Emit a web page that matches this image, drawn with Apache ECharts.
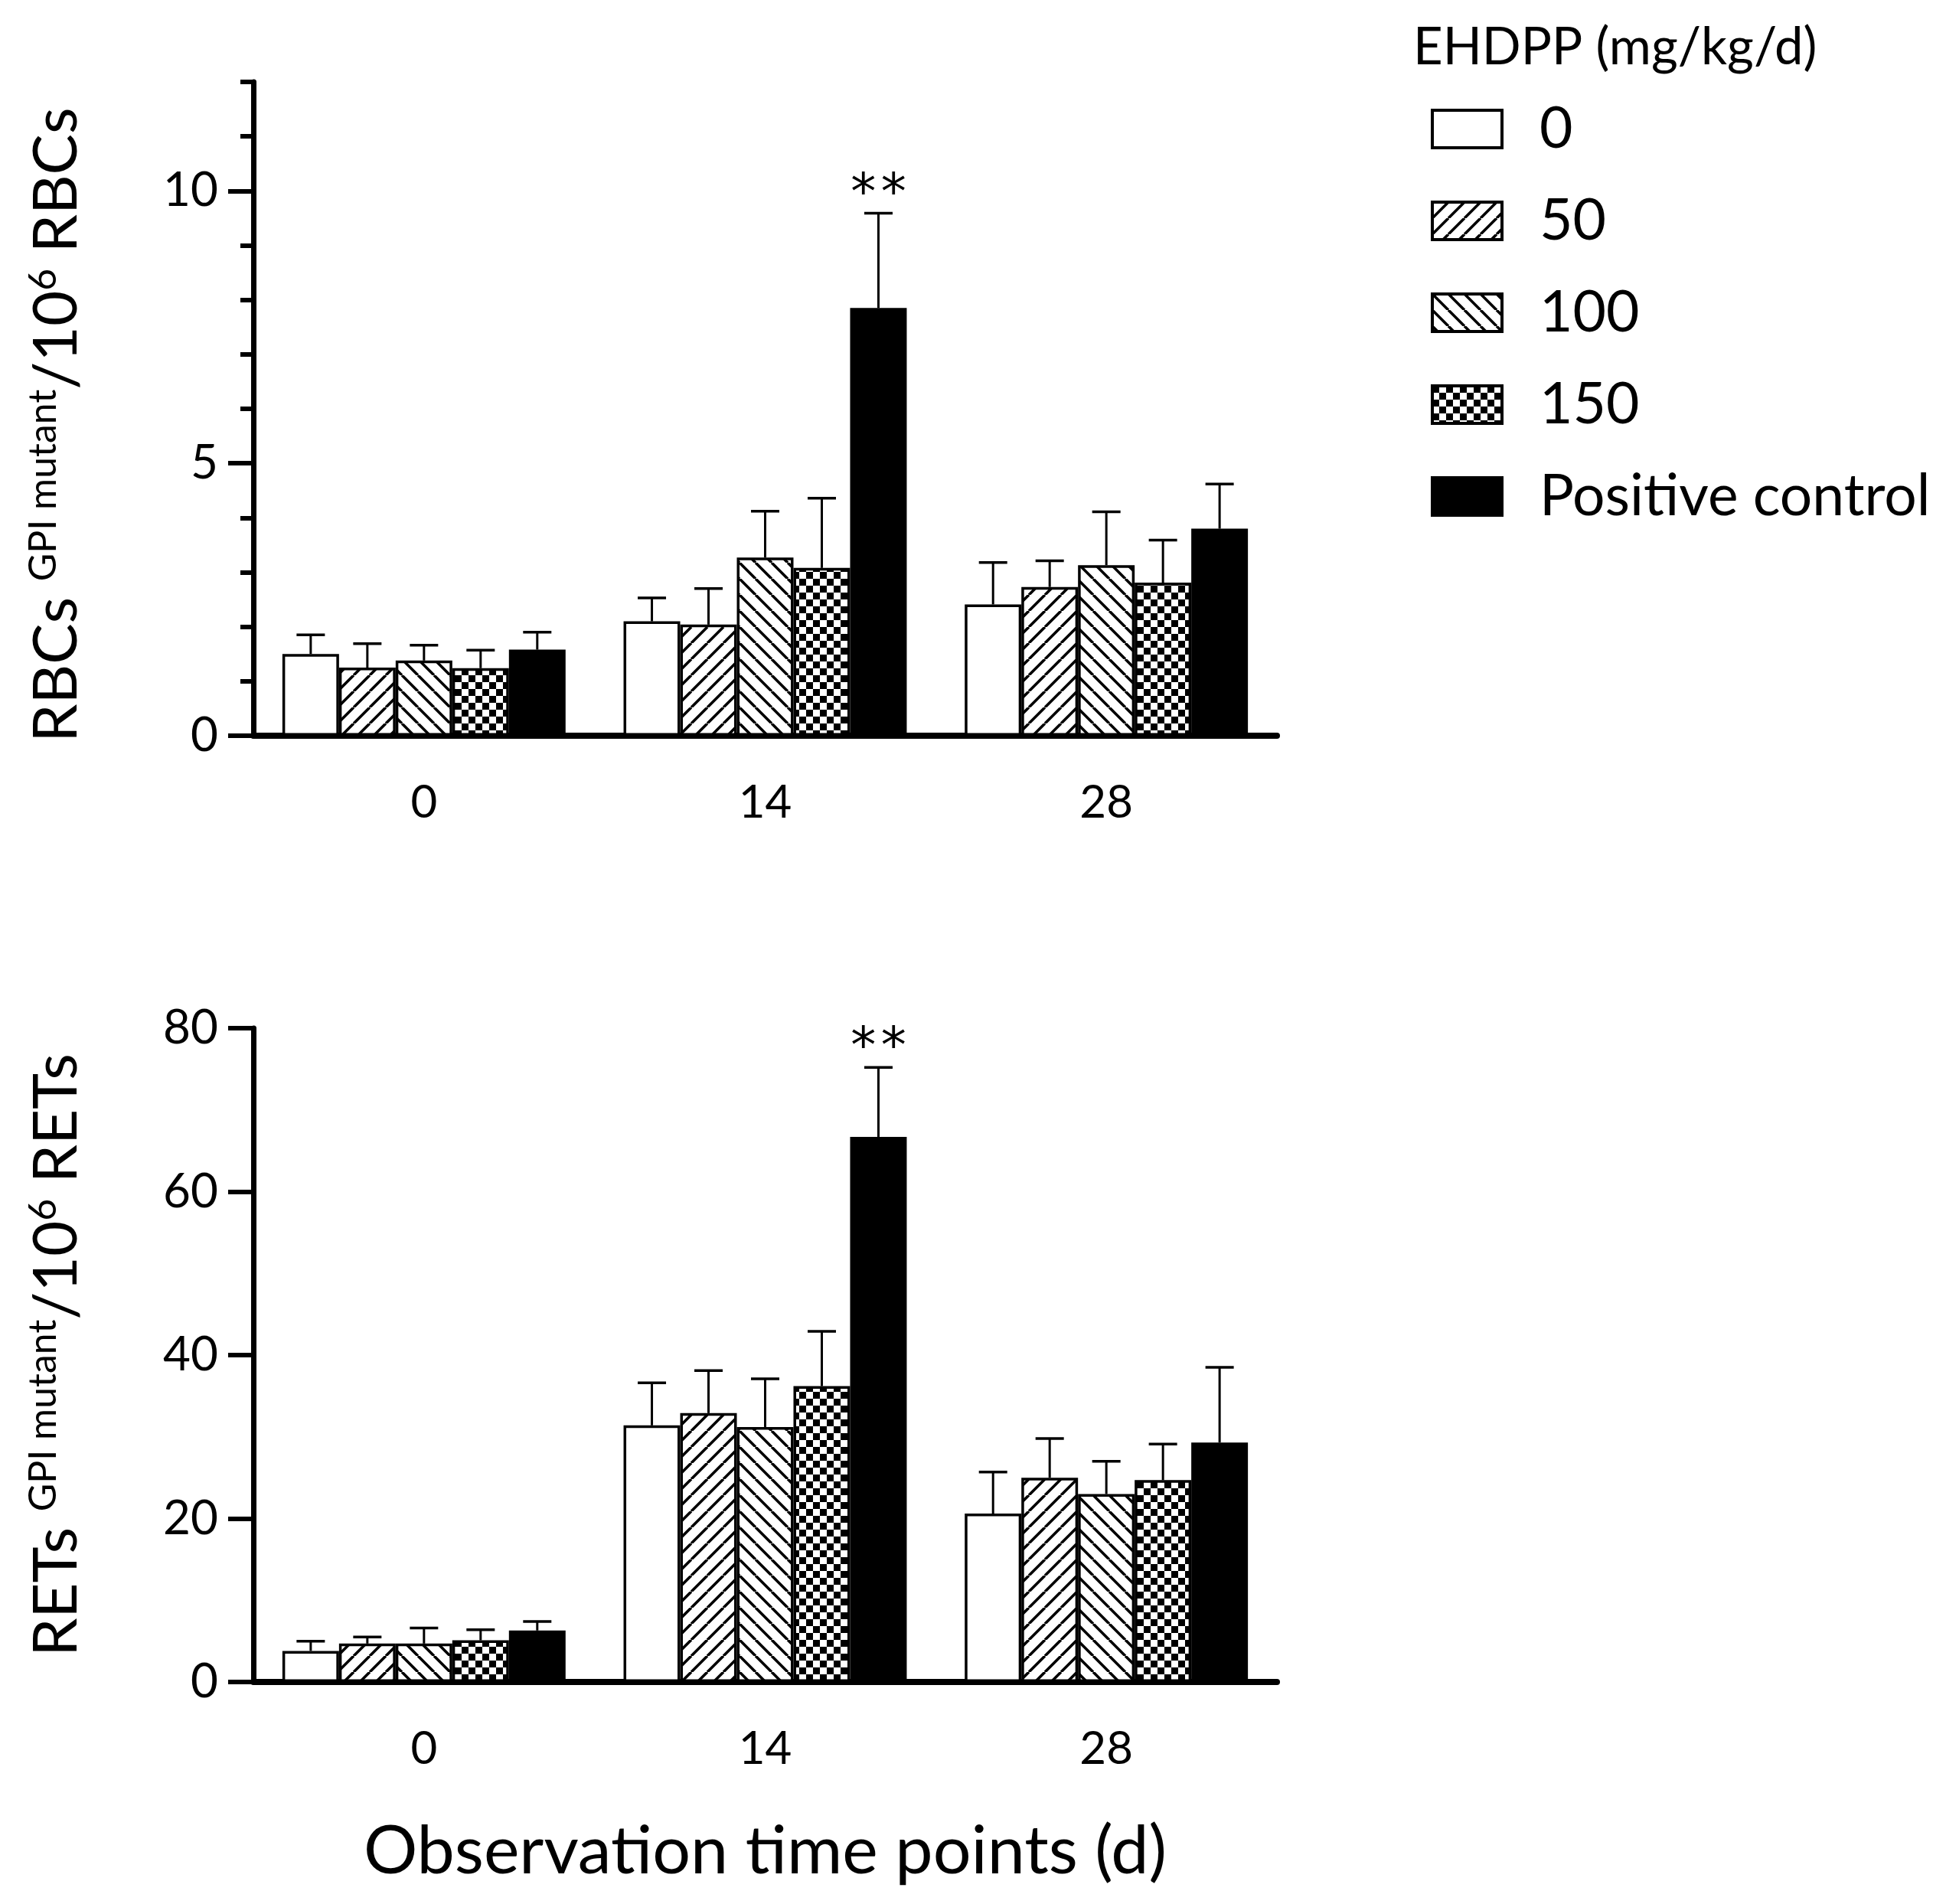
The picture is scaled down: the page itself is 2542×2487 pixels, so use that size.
<!DOCTYPE html>
<html>
<head>
<meta charset="utf-8">
<script src="https://cdn.jsdelivr.net/npm/echarts@6/dist/echarts.min.js"></script>
<style>
html, body { margin: 0; padding: 0; background: #fff; }
#charts { width: 2542px; height: 2487px; }
</style>
</head>
<body>
<div id="charts"></div>
<script>
// time points (d) and dose groups
var timePoints = ['0', '14', '28'];
var doseNames = ['0', '50', '100', '150', 'Positive control'];

// RBCs GPI mutant / 10^6 RBCs : means and upper error (SD)
var rbc0 = [1.50, 2.10, 2.41];
var rbc50 = [1.25, 2.04, 2.73];
var rbc100 = [1.38, 3.27, 3.13];
var rbc150 = [1.24, 3.08, 2.81];
var rbcPC = [1.58, 7.85, 3.80];
var rbc0Sd = [0.35, 0.43, 0.77];
var rbc50Sd = [0.44, 0.66, 0.48];
var rbc100Sd = [0.28, 0.85, 0.98];
var rbc150Sd = [0.33, 1.28, 0.78];
var rbcPCSd = [0.32, 1.74, 0.82];
var rbcSig = ['', '**', ''];

// RETs GPI mutant / 10^6 RETs
var ret0 = [3.8, 31.4, 20.6];
var ret50 = [4.7, 32.9, 25.0];
var ret100 = [4.7, 31.2, 23.0];
var ret150 = [5.1, 36.2, 24.7];
var retPC = [6.3, 66.7, 29.3];
var ret0Sd = [1.2, 5.2, 5.1];
var ret50Sd = [0.8, 5.2, 4.8];
var ret100Sd = [1.9, 5.9, 4.0];
var ret150Sd = [1.3, 6.7, 4.4];
var retPCSd = [1.1, 8.5, 9.2];
var retSig = ['', '**', ''];

var rbcTicks = [0, 5, 10];
var rbcMinorTicks = [0, 1, 2, 3, 4, 5, 6, 7, 8, 9, 10, 11, 12];

var FONT = 'Lato';
var GAP = 0.17;

function makeCanvas(s) {
	var c = document.createElement('canvas');
	c.width = s; c.height = s;
	var g = c.getContext('2d');
	g.fillStyle = '#fff';
	g.fillRect(0, 0, s, s);
	return c;
}
function hatch(up) {
	var s = 21, c = makeCanvas(s), g = c.getContext('2d');
	g.strokeStyle = '#000';
	g.lineWidth = 3.6;
	g.beginPath();
	for (var k = -1; k <= 1; k++) {
		var x0 = k * s;
		if (up) { g.moveTo(x0, s); g.lineTo(x0 + s, 0); }
		else { g.moveTo(x0, 0); g.lineTo(x0 + s, s); }
	}
	g.stroke();
	return { image: c, repeat: 'repeat' };
}
function checker() {
	var s = 18, c = makeCanvas(s), g = c.getContext('2d');
	g.fillStyle = '#000';
	g.fillRect(0, 0, 9, 9);
	g.fillRect(9, 9, 9, 9);
	return { image: c, repeat: 'repeat' };
}
var fills = ['#fff', hatch(true), hatch(false), checker(), '#000'];

function barSeries(idx, data, gridIdx) {
	return {
		name: doseNames[idx],
		type: 'bar',
		xAxisIndex: gridIdx,
		yAxisIndex: gridIdx === 0 ? 0 : 2,
		data: data,
		barGap: '0%',
		barCategoryGap: (GAP * 100) + '%',
		itemStyle: { color: fills[idx], borderColor: '#000', borderWidth: 3.5 },
		emphasis: { disabled: true },
		z: 2
	};
}

function errData(means, sds, sig) {
	var out = [];
	for (var s = 0; s < means.length; s++) {
		for (var c = 0; c < timePoints.length; c++) {
			var m = means[s][c];
			out.push([c, s, m, m + sds[s][c], s === 4 ? sig[c] : '']);
		}
	}
	return out;
}

function renderErr(params, api) {
	var c = api.value(0), s = api.value(1), m = api.value(2), e = api.value(3);
	var sig = api.value(4);
	var base = api.coord([c, m]);
	var top = api.coord([c, e]);
	var band = api.size([1, 0])[0];
	var bw = band * (1 - GAP) / 5;
	var x = base[0] + (s - 2) * bw;
	var half = 18.5;
	var children = [{
		type: 'line',
		shape: { x1: x, y1: base[1], x2: x, y2: top[1] },
		style: { stroke: '#000', lineWidth: 3 }
	}, {
		type: 'line',
		shape: { x1: x - half, y1: top[1], x2: x + half, y2: top[1] },
		style: { stroke: '#000', lineWidth: 3.5 }
	}];
	if (sig) {
		children.push({
			type: 'text',
			style: {
				text: sig.split('').join('\u200A'), x: x, y: top[1] + 10,
				fill: '#000', font: '66px "DejaVu Sans"',
				textAlign: 'center', textVerticalAlign: 'bottom'
			}
		});
	}
	return { type: 'group', children: children };
}

function errSeries(gridIdx, data) {
	return {
		type: 'custom',
		xAxisIndex: gridIdx,
		yAxisIndex: gridIdx === 0 ? 0 : 2,
		data: data,
		renderItem: renderErr,
		encode: { x: 0, y: [2, 3] },
		silent: true,
		z: 3
	};
}

var axisLineStyle = { color: '#000', width: 7 };

function xAxisOpt(gridIdx, withName) {
	var o = {
		type: 'category',
		gridIndex: gridIdx,
		data: timePoints,
		axisLine: { lineStyle: { color: '#000', width: 8 } },
		axisTick: { alignWithLabel: true, length: 35, lineStyle: { width: 7, color: '#000' } },
		axisLabel: { color: '#000', fontFamily: FONT, fontSize: 60, margin: 58 },
		splitLine: { show: false }
	};
	if (withName) {
		o.name = 'Observation time points (d)';
		o.nameLocation = 'middle';
		o.nameGap = 178;
		o.nameTextStyle = { color: '#000', fontFamily: FONT, fontSize: 88 };
	}
	return o;
}

function yName(lead, tail) {
	return '{m|' + lead + ' }{s|GPI mutant}{m|/10}{s|6}{m| ' + tail + '}';
}
var yRich = {
	m: { fontFamily: FONT, fontSize: 80, color: '#000', lineHeight: 84, verticalAlign: 'middle' },
	s: { fontFamily: FONT, fontSize: 50, color: '#000', lineHeight: 50, verticalAlign: 'top' }
};

var options = {
	animation: false,
	backgroundColor: '#fff',
	title: {
		text: 'EHDPP (mg/kg/d)',
		left: 1841,
		top: 24,
		textStyle: { fontFamily: FONT, fontSize: 67, fontWeight: 'normal', color: '#000' }
	},
	legend: {
		orient: 'vertical',
		left: 1864,
		top: 126,
		itemWidth: 91,
		itemHeight: 49,
		itemGap: 45,
		icon: 'rect',
		data: doseNames,
		selectedMode: false,
		itemStyle: { borderWidth: 4, borderColor: '#000' },
		textStyle: { fontFamily: FONT, fontSize: 75, color: '#000', padding: [0, 0, 0, 44] }
	},
	grid: [
		{ left: 331, right: 874, top: 107, height: 854 },
		{ left: 331, right: 874, top: 1343, height: 854 }
	],
	xAxis: [xAxisOpt(0, false), xAxisOpt(1, true)],
	yAxis: [{
		type: 'value',
		gridIndex: 0,
		position: 'left',
		min: 0,
		max: 12,
		interval: 1,
		axisLine: { show: true, lineStyle: axisLineStyle },
		axisTick: { show: true, length: 33, customValues: rbcTicks, lineStyle: { width: 6, color: '#000' } },
		axisLabel: { color: '#000', fontFamily: FONT, fontSize: 62, margin: 46, customValues: rbcTicks },
		splitLine: { show: false },
		name: yName('RBCs', 'RBCs'),
		nameLocation: 'middle',
		nameRotate: 90,
		nameGap: 215,
		nameTextStyle: { rich: yRich, padding: [0, 42, 0, 0] }
	}, {
		type: 'value',
		gridIndex: 0,
		position: 'left',
		offset: 0,
		min: 0,
		max: 12,
		interval: 1,
		axisLine: { show: false },
		axisTick: { show: true, length: 17, customValues: rbcMinorTicks, lineStyle: { width: 6, color: '#000' } },
		axisLabel: { show: false },
		splitLine: { show: false }
	}, {
		type: 'value',
		gridIndex: 1,
		position: 'left',
		min: 0,
		max: 80,
		interval: 20,
		axisLine: { show: true, lineStyle: axisLineStyle },
		axisTick: { show: true, length: 33, lineStyle: { width: 6, color: '#000' } },
		axisLabel: { color: '#000', fontFamily: FONT, fontSize: 62, margin: 46 },
		splitLine: { show: false },
		name: yName('RETs', 'RETs'),
		nameLocation: 'middle',
		nameRotate: 90,
		nameGap: 215,
		nameTextStyle: { rich: yRich }
	}],
	series: [
		barSeries(0, rbc0, 0), barSeries(1, rbc50, 0), barSeries(2, rbc100, 0),
		barSeries(3, rbc150, 0), barSeries(4, rbcPC, 0),
		errSeries(0, errData([rbc0, rbc50, rbc100, rbc150, rbcPC],
			[rbc0Sd, rbc50Sd, rbc100Sd, rbc150Sd, rbcPCSd], rbcSig)),
		barSeries(0, ret0, 1), barSeries(1, ret50, 1), barSeries(2, ret100, 1),
		barSeries(3, ret150, 1), barSeries(4, retPC, 1),
		errSeries(1, errData([ret0, ret50, ret100, ret150, retPC],
			[ret0Sd, ret50Sd, ret100Sd, ret150Sd, retPCSd], retSig))
	]
};

var charts = echarts.init(document.getElementById('charts'));
charts.setOption(options);
</script>
</body>
</html>
